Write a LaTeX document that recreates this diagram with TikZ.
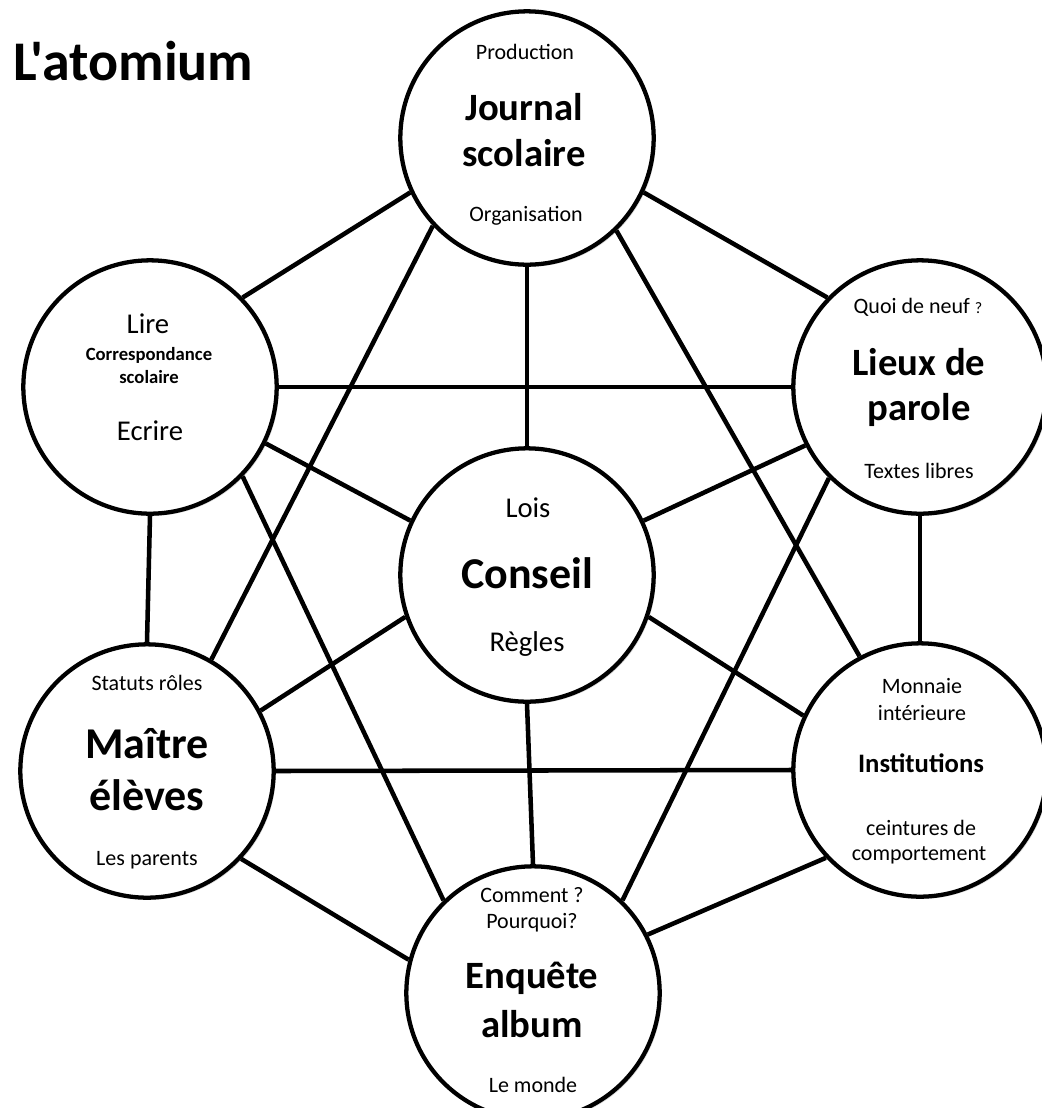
\documentclass[tikz,border=0pt]{standalone}
\usepackage{fontspec}
\setmainfont{Carlito}
\newfontfamily\titlefont{Carlito}
\usetikzlibrary{shadows}
\tikzstyle{atom} = [
	circle,
	minimum size=190pt,
	inner sep=0pt,
	draw=black,
	line width=3.2pt,
	fill=white,
	drop shadow={shadow xshift=1.6pt, shadow yshift=-1.6pt, opacity=0.3}
]
\tikzstyle{link} = [line width=3.4pt]
\tikzstyle{txt} = [anchor=base, inner sep=0pt]
\tikzstyle{heading} = [txt, anchor=base west, font=\titlefont\bfseries\fontsize{42}{50}\selectfont]
\tikzstyle{note} = [txt, font=\fontsize{16.5}{20}\selectfont]
\tikzstyle{word} = [txt, font=\fontsize{21.5}{26}\selectfont]
\tikzstyle{head} = [txt, font=\bfseries\fontsize{29}{35}\selectfont]
\tikzstyle{headxl} = [txt, font=\bfseries\fontsize{33}{40}\selectfont]
\tikzstyle{headsm} = [txt, font=\bfseries\fontsize{20}{24}\selectfont]
\tikzstyle{corr} = [txt, font=\bfseries\fontsize{14}{17}\selectfont]

\begin{document}
\begin{tikzpicture}[x=0.75pt, y=-0.75pt]
    \useasboundingbox (0, 0) rectangle (1042, 1108);
    \node[heading] at (13, 80) (title) {L'atomium};
    \node[atom] at (527, 138) (J) {};
    \node[atom] at (150, 387) (L) {};
    \node[atom] at (920, 387) (P) {};
    \node[atom] at (527, 575) (C) {};
    \node[atom] at (147, 771) (M) {};
    \node[atom] at (920, 770) (I) {};
    \node[atom] at (533, 993) (E) {};
    \draw[link] (J.205) -- (L.44);
    \draw[link] (J.335) -- (P.136);
    \draw[link] (J.south) -- (C.north);
    \draw[link] (J.223.5) -- (M.60.5);
    \draw[link] (J.314) -- (I.118.5);
    \draw[link] (L.east) -- (P.west);
    \draw[link] (L.334) -- (C.155);
    \draw[link] (L.south) -- (M.north);
    \draw[link] (L.316) -- (E.134);
    \draw[link] (P.207.5) -- (C.25);
    \draw[link] (P.south) -- (I.north);
    \draw[link] (P.225) -- (E.46);
    \draw[link] (C.199) -- (M.28);
    \draw[link] (C.341.5) -- (I.155);
    \draw[link] (C.south) -- (E.north);
    \draw[link] (M.east) -- (I.west);
    \draw[link] (M.317) -- (E.165);
    \draw[link] (I.223) -- (E.27);
    \node[note] at (525, 59) (J-top) {Production};
    \node[head] at (524, 120) (J-a) {Journal};
    \node[head] at (524, 166) (J-b) {scolaire};
    \node[note] at (526, 221) (J-bot) {Organisation};
    \node[word] at (148, 333) (L-top) {Lire};
    \node[corr] at (149, 360) (L-a) {Correspondance};
    \node[corr] at (149, 383) (L-b) {scolaire};
    \node[word] at (150, 440) (L-bot) {Ecrire};
    \node[note] at (918, 313) (P-top) {Quoi de neuf {\fontsize{12}{14}\selectfont ?}};
    \node[head] at (919, 375) (P-a) {Lieux de};
    \node[head] at (919, 420) (P-b) {parole};
    \node[note] at (919, 478) (P-bot) {Textes libres};
    \node[word] at (528, 517) (C-top) {Lois};
    \node[headxl] at (527, 588) (C-a) {Conseil};
    \node[word] at (527, 651) (C-bot) {Règles};
    \node[note] at (147, 690) (M-top) {Statuts rôles};
    \node[headxl] at (147, 758) (M-a) {Maître};
    \node[headxl] at (147, 810) (M-b) {élèves};
    \node[note] at (147, 865) (M-bot) {Les parents};
    \node[note] at (922, 693) (I-top) {Monnaie};
    \node[note] at (922, 720) (I-top2) {intérieure};
    \node[headsm] at (921, 772) (I-a) {Institutions};
    \node[note] at (921, 835) (I-bot) {ceintures de};
    \node[note] at (919, 860) (I-bot2) {comportement};
    \node[note] at (532, 902) (E-top) {Comment ?};
    \node[note] at (532, 928) (E-top2) {Pourquoi?};
    \node[head] at (532, 988) (E-a) {Enquête};
    \node[head] at (532, 1037) (E-b) {album};
    \node[note] at (533, 1092) (E-bot) {Le monde};
\end{tikzpicture}
\end{document}
